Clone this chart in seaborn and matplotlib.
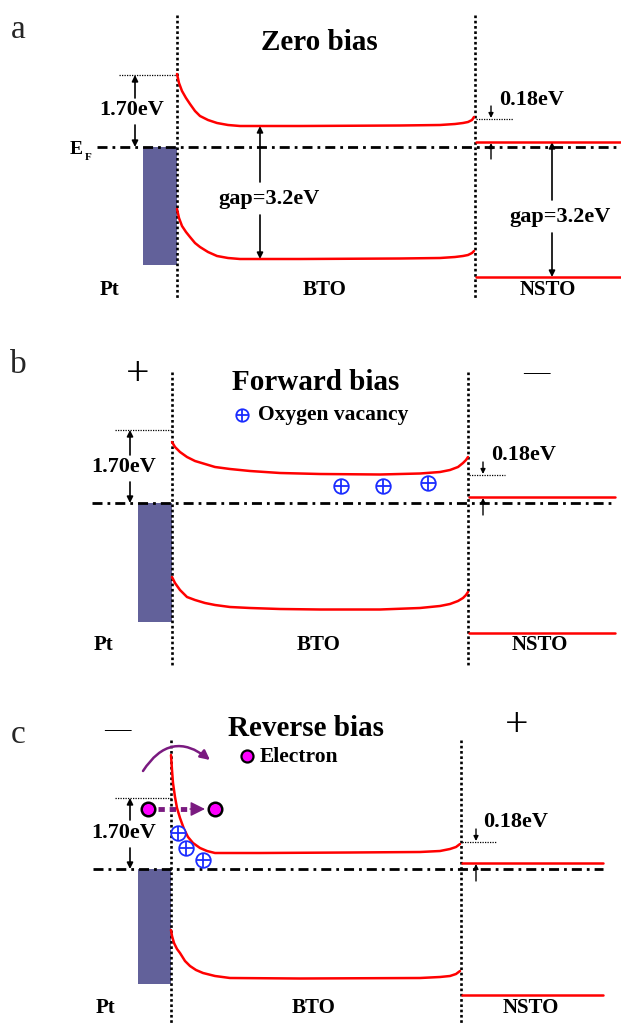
import numpy as np
import matplotlib
matplotlib.use("Agg")
import matplotlib.pyplot as plt
import seaborn as sns
from matplotlib.patches import Rectangle, FancyArrowPatch

sns.set_theme(style="white")
plt.rcParams['font.family'] = ['Liberation Serif', 'DejaVu Serif']

# ---------------- data (figure pixel coordinates, y downward) ----------------
panel_labels = ["a", "b", "c"]
titles = ["Zero bias", "Forward bias", "Reverse bias"]
title_xy = [(319, 43), (316, 382), (306, 728)]
region_names = ["Pt", "BTO", "NSTO"]
region_label_x = [[110, 325, 548], [103, 319, 540], [105, 314, 531]]
region_label_y = [290, 645, 1008]

# interfaces (left Pt/BTO, right BTO/NSTO) and vertical extent
iface_left = [177, 172, 171]
iface_right = [475, 468, 461]
iface_top = [15, 372, 740]
iface_bottom = [300, 667, 1025]

# Fermi level and its line extent
fermi_y = [147, 503, 869]
fermi_x0 = [97, 92, 93]
fermi_x1 = [621, 615, 603]

# Pt filled states
pt_left = [143, 138, 138]
pt_bottom = [265, 622, 984]

# BTO conduction / valence bands
a_cb_x = [177, 179, 182, 186, 190, 195, 200, 208, 217, 228, 240, 300, 400, 440, 455, 463, 468, 472, 474]
a_cb_y = [74, 83, 91, 98, 104, 111, 116, 120, 123, 125, 126, 126, 125.5, 125, 124, 123, 122, 120, 117]
a_vb_x = [177, 179, 182, 186, 190, 195, 200, 208, 217, 228, 240, 300, 400, 440, 455, 463, 468, 472, 474]
a_vb_y = [209, 218, 226, 232, 237, 243, 247, 252, 256, 258, 259, 259, 258.5, 258, 257, 256, 255, 253, 251]

b_cb_x = [172, 175, 180, 187, 195, 205, 215, 230, 250, 280, 320, 380, 420, 440, 450, 458, 463, 466, 468]
b_cb_y = [442, 447, 452, 457, 461, 464, 467, 469, 471, 473, 474, 474.5, 473.5, 472, 470, 467, 463, 460, 457]
b_vb_x = [172, 175, 180, 187, 195, 205, 215, 230, 250, 280, 320, 380, 420, 440, 450, 458, 463, 466, 468]
b_vb_y = [577, 583, 590, 597, 600, 603, 605, 607, 608, 609, 609.5, 609.5, 608, 606, 604, 601, 598, 595, 592]

c_cb_x = [171, 172, 173, 175, 177, 180, 184, 188, 193, 200, 207, 215, 260, 350, 420, 440, 450, 456, 460]
c_cb_y = [755, 770, 783, 797, 808, 818, 829, 837, 843, 848, 851, 853, 853, 852.5, 852, 851, 849, 847, 844]
c_vb_x = [171, 172, 174, 177, 180, 185, 190, 196, 203, 215, 230, 300, 420, 440, 450, 456, 460]
c_vb_y = [930, 936, 943, 949, 953, 961, 966, 970, 973, 976, 978, 978.5, 978, 977, 976, 974, 971]

bto_bands = [((a_cb_x, a_cb_y), (a_vb_x, a_vb_y)),
             ((b_cb_x, b_cb_y), (b_vb_x, b_vb_y)),
             ((c_cb_x, c_cb_y), (c_vb_x, c_vb_y))]

# NSTO flat bands
nsto_cb_y = [142, 497, 863]
nsto_vb_y = [277, 633, 995]
nsto_x1 = [621, 615, 603]

# 1.70 eV barrier annotation
barrier_top_y = [75, 430, 798]
barrier_arrow_x = [135, 130, 130]
barrier_dot_x0 = [119, 115, 115]
barrier_text_xy = [(132, 110), (124, 467), (124, 833)]
barrier_up_from = [98, 455, 820]
barrier_down_from = [125, 482, 848]

# 0.18 eV annotation
off_top_y = [119, 475, 842]
off_dot_x1 = [513, 505, 497]
off_arrow_x = [491, 483, 476]
off_text_xy = [(499, 100), (491, 455), (483, 822)]

# gap arrows (panel a only)
gap_arrow_x = [260, 552]
gap_text_xy = [(269, 199), (560, 217)]
gap_top = [126, 142]
gap_bottom = [259, 277]

# bias signs
sign_text = [("+", 138, 375), ("\u2014", 536, 372), ("\u2014", 117, 729), ("+", 517, 726)]

# oxygen vacancies and electrons
vac_b_x = [341, 383, 428]
vac_b_y = [486, 486, 483]
vac_c_x = [178, 186, 203]
vac_c_y = [833, 848, 860]
elec_x = [148, 215]
elec_y = [809, 809]

legend_b = ("Oxygen vacancy", 242, 415)
legend_c = ("Electron", 247, 756)

RED = "#ff0000"
PT_COLOR = "#62619a"
PURPLE = "#7a1a80"
BLUE = "#1a2cff"

# ---------------- figure ----------------
fig = plt.figure(figsize=(6.21, 10.25), dpi=100)
ax = fig.add_axes([0, 0, 1, 1])
ax.set_xlim(0, 621)
ax.set_ylim(1025, 0)
ax.axis("off")

bold = dict(fontweight="bold", color="black")

def varrow(x, y_from, y_to, lw=1.2, ms=9):
    ax.annotate("", xy=(x, y_to), xytext=(x, y_from),
                arrowprops=dict(arrowstyle="-|>", color="black", lw=lw,
                                mutation_scale=ms, shrinkA=0, shrinkB=0))

for i in range(3):
    # panel letter
    ax.text(18, [30, 365, 735][i], panel_labels[i], fontsize=24, ha="center", va="center")
    # title
    ax.text(*title_xy[i], titles[i], fontsize=21, ha="center", va="center", **bold)
    # region labels
    for name, x in zip(region_names, region_label_x[i]):
        ax.text(x, region_label_y[i], name, fontsize=15, ha="center", va="center", **bold)
    # Pt block
    ax.add_patch(Rectangle((pt_left[i], fermi_y[i]), iface_left[i] - pt_left[i],
                           pt_bottom[i] - fermi_y[i], facecolor=PT_COLOR, edgecolor="none", zorder=2))
    # Fermi level (dash-dot)
    ax.plot([fermi_x0[i], fermi_x1[i]], [fermi_y[i], fermi_y[i]], color="black", lw=2,
            dashes=(3.6, 1.8, 1.0, 1.8), zorder=3)
    # interfaces
    for xi in (iface_left[i], iface_right[i]):
        ax.plot([xi, xi], [iface_top[i], iface_bottom[i]], color="black", lw=1.9,
                dashes=(1, 1), zorder=4)
    # BTO bands
    for bx, by in bto_bands[i]:
        sns.lineplot(x=bx, y=by, ax=ax, color=RED, lw=1.8, sort=False, estimator=None, zorder=5)
    # NSTO bands
    x0n = iface_right[i] + 1
    ax.plot([x0n, nsto_x1[i]], [nsto_cb_y[i]] * 2, color=RED, lw=1.8, zorder=5)
    ax.plot([x0n, nsto_x1[i]], [nsto_vb_y[i]] * 2, color=RED, lw=1.8, zorder=5)
    # 1.70 eV
    ax.plot([barrier_dot_x0[i], iface_left[i]], [barrier_top_y[i]] * 2, color="black",
            lw=0.9, dashes=(1, 1))
    varrow(barrier_arrow_x[i], barrier_up_from[i], barrier_top_y[i])
    varrow(barrier_arrow_x[i], barrier_down_from[i], fermi_y[i])
    ax.text(*barrier_text_xy[i], "1.70eV", fontsize=16, ha="center", va="center", **bold)
    # 0.18 eV
    ax.plot([iface_right[i] + 1, off_dot_x1[i]], [off_top_y[i]] * 2, color="black",
            lw=0.9, dashes=(1, 1))
    varrow(off_arrow_x[i], off_top_y[i] - 13, off_top_y[i] - 1, lw=1.0, ms=7)
    varrow(off_arrow_x[i], fermi_y[i] + 12, nsto_cb_y[i] + 1, lw=1.0, ms=7)
    ax.text(*off_text_xy[i], "0.18eV", fontsize=16, ha="left", va="center", **bold)

# EF label (panel a)
ax.text(76, 150, "E", fontsize=14, ha="center", va="center", **bold)
ax.text(88, 157, "F", fontsize=8, ha="center", va="center", **bold)

# gap annotations (panel a)
for gx, (tx, ty), gt, gb in zip(gap_arrow_x, gap_text_xy, gap_top, gap_bottom):
    varrow(gx, ty - 17, gt)
    varrow(gx, ty + 16, gb)
    ax.text(tx, ty, "gap=3.2eV", fontsize=16, ha="center", va="center", **bold)

# bias signs
for s, x, y in sign_text:
    ax.text(x, y, s, fontsize=30 if s == "+" else 19, ha="center", va="center",
            color="black", fontweight="light")

# oxygen vacancies
def vacancy(xs, ys, size=110):
    ax.scatter(xs, ys, s=size, facecolors="white", edgecolors=BLUE, linewidths=1.3, zorder=7)
    ax.scatter(xs, ys, s=size * 0.95, marker="+", color=BLUE, linewidths=1.3, zorder=8)

vacancy(vac_b_x, vac_b_y)
vacancy(vac_c_x, vac_c_y)
vacancy([legend_b[1]], [legend_b[2]], size=80)
ax.text(legend_b[1] + 16, legend_b[2], legend_b[0], fontsize=15.5, ha="left", va="center", **bold)

# electrons
ax.scatter(elec_x, elec_y, s=95, color="#ff00ff", edgecolors="black", linewidths=1.8, zorder=9)
ax.scatter([legend_c[1]], [legend_c[2]], s=75, color="#ff00ff", edgecolors="black",
           linewidths=1.6, zorder=9)
ax.text(legend_c[1] + 13, legend_c[2] + 1, legend_c[0], fontsize=15.5, ha="left", va="center", **bold)

# dashed transfer arrow between electrons
ax.plot([158, 192], [809, 809], color=PURPLE, lw=3.5, dashes=(1.3, 1.0), zorder=8)
ax.annotate("", xy=(205, 809), xytext=(190, 809),
            arrowprops=dict(arrowstyle="-|>", color=PURPLE, lw=1, mutation_scale=22,
                            shrinkA=0, shrinkB=0), zorder=8)

# curved arrow over the barrier
arc = FancyArrowPatch((143, 771), (210, 760), connectionstyle="arc3,rad=-0.55",
                      arrowstyle="-|>", mutation_scale=14, color=PURPLE, lw=1.8,
                      shrinkA=0, shrinkB=0, zorder=8)
ax.add_patch(arc)

fig.savefig("out.png", dpi=100, facecolor="white")
